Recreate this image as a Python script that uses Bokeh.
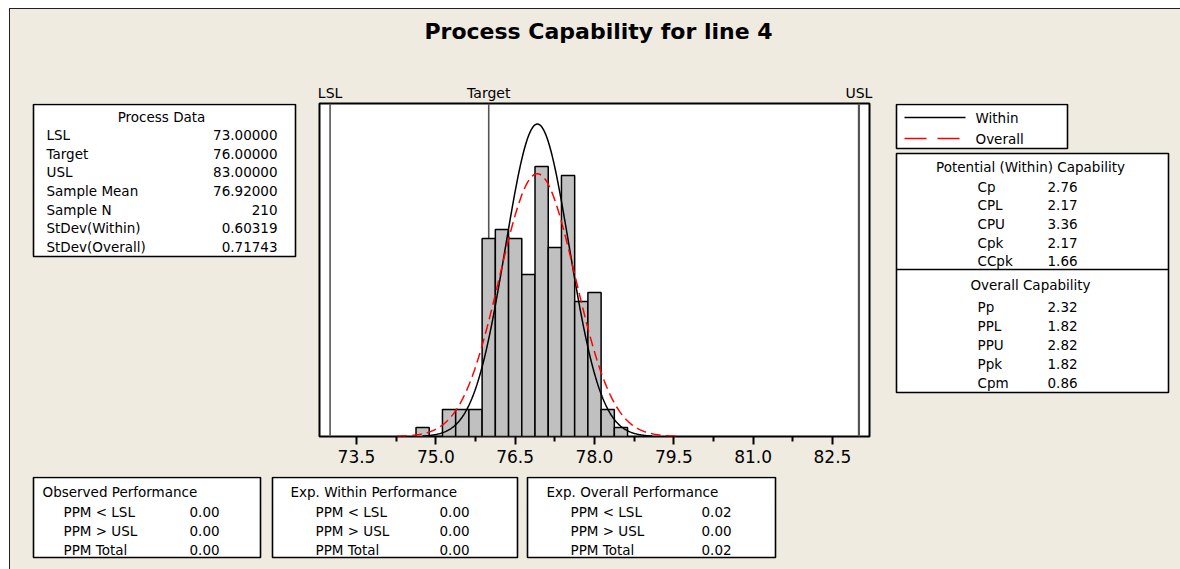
import numpy as np
from bokeh.plotting import figure
from bokeh.models import Range1d, LinearAxis, FixedTicker, Span, NumeralTickFormatter
from bokeh.layouts import column, row
from bokeh.embed import file_html
from bokeh.resources import INLINE
from bokeh.core.properties import value

# ---------------- data ----------------
title_text = "Process Capability for line 4"
lsl = 73
target = 76
usl = 83
sample_mean = 76.92
sample_n = 210
sd_within = 0.60319
sd_overall = 0.71743
bin_width = 0.25
bin_centers = [74.75, 75.0, 75.25, 75.5, 75.75, 76.0, 76.25, 76.5, 76.75,
               77.0, 77.25, 77.5, 77.75, 78.0, 78.25, 78.5]
bin_counts = [1, 0, 3, 3, 3, 22, 23, 22, 18, 30, 21, 29, 15, 16, 3, 1]
x_ticks = [73.5, 75.0, 76.5, 78.0, 79.5, 81.0, 82.5]
x_minor_ticks = [74.25, 75.75, 77.25, 78.75, 80.25, 81.75]
spec_labels = {lsl: "LSL", target: "Target", usl: "USL"}

pd_title = "Process Data"
pd_labels = ["LSL", "Target", "USL", "Sample Mean", "Sample N", "StDev(Within)", "StDev(Overall)"]
pd_values = ["73.00000", "76.00000", "83.00000", "76.92000", "210", "0.60319", "0.71743"]

legend_labels = ["Within", "Overall"]

pot_title = "Potential (Within) Capability"
pot_labels = ["Cp", "CPL", "CPU", "Cpk", "CCpk"]
pot_values = ["2.76", "2.17", "3.36", "2.17", "1.66"]
ovr_title = "Overall Capability"
ovr_labels = ["Pp", "PPL", "PPU", "Ppk", "Cpm"]
ovr_values = ["2.32", "1.82", "2.82", "1.82", "0.86"]

perf_titles = ["Observed Performance", "Exp. Within Performance", "Exp. Overall Performance"]
perf_labels = ["PPM < LSL", "PPM > USL", "PPM Total"]
perf_values = [["0.00", "0.00", "0.00"],
               ["0.00", "0.00", "0.00"],
               ["0.02", "0.00", "0.02"]]

# ---------------- style ----------------
CREAM = "#EFEBE0"
FONT = "DejaVu Sans"
FS = "13.5px"


def txt(f, xs, ys, texts, align="left", size=FS, style="normal"):
    f.text(x=xs, y=ys, text=texts, text_font=value(FONT), text_font_size=size,
           text_align=align, text_baseline="middle", text_color="black",
           text_font_style=style)


def panel(x0, x1, y0, y1, btop=0, bbot=0):
    f = figure(width=x1 - x0, height=(y1 - y0) + btop + bbot, x_range=Range1d(x0, x1),
               y_range=Range1d(y1, y0), output_backend="svg",
               toolbar_location=None, min_border=0,
               min_border_top=btop, min_border_bottom=bbot,
               x_axis_type=None, y_axis_type=None)
    f.grid.visible = False
    f.outline_line_color = None
    f.background_fill_color = CREAM
    f.border_fill_color = CREAM
    return f


def box(f, l, r, t, b):
    f.quad(left=l, right=r, top=t, bottom=b, fill_color="white",
           line_color="black", line_width=1.6)


# ---------------- title strip (page area starts at x=10, y=9) ----------------
top = panel(10, 1180, 9, 75)
txt(top, [598], [31], [title_text], align="center", size="22px", style="bold")

# ---------------- left: process data (frame aligned with histogram frame) ----------------
left = panel(10, 305, 103, 436, btop=28, bbot=40)
box(left, 33, 295, 104, 256)
txt(left, [161], [116], [pd_title], align="center")
pd_y = [134.3 + i * 18.7 for i in range(len(pd_labels))]
txt(left, [46] * len(pd_labels), pd_y, pd_labels)
txt(left, [277] * len(pd_values), pd_y, pd_values, align="right")

# ---------------- histogram ----------------
hist = figure(width=580, height=401, x_range=Range1d(72.8, 83.2), y_range=Range1d(0, 37.0),
              output_backend="svg", toolbar_location=None,
              min_border_left=14, min_border_right=16, min_border_top=28, min_border_bottom=40,
              y_axis_type=None)
hist.grid.visible = False
hist.background_fill_color = "white"
hist.border_fill_color = CREAM
hist.outline_line_color = "black"
hist.outline_line_width = 2

for loc, col, wd in [(lsl, "#555555", 1.6), (target, "#555555", 1.6), (usl, "#555555", 2.2)]:
    hist.add_layout(Span(location=loc, dimension="height", line_color=col,
                         line_width=wd, level="underlay"))

centers = np.array(bin_centers)
hist.quad(left=centers - bin_width / 2, right=centers + bin_width / 2,
          top=bin_counts, bottom=0, fill_color="#C0C0C0", line_color="black", line_width=1.5)

scale = sample_n * bin_width
xw = np.linspace(sample_mean - 3.6 * sd_within, sample_mean + 3.6 * sd_within, 300)
yw = scale * np.exp(-0.5 * ((xw - sample_mean) / sd_within) ** 2) / (sd_within * np.sqrt(2 * np.pi))
xo = np.linspace(sample_mean - 3.7 * sd_overall, sample_mean + 3.7 * sd_overall, 300)
yo = scale * np.exp(-0.5 * ((xo - sample_mean) / sd_overall) ** 2) / (sd_overall * np.sqrt(2 * np.pi))
hist.line(xw, yw, line_color="black", line_width=1.5)
hist.line(xo, yo, line_color="#FF0000", line_width=1.5, line_dash="10 5")

ax = hist.xaxis[0]
ax.ticker = FixedTicker(ticks=x_ticks, minor_ticks=x_minor_ticks)
ax.formatter = NumeralTickFormatter(format="0.0")
ax.axis_line_color = None
ax.major_tick_line_color = "black"
ax.major_tick_line_width = 2
ax.minor_tick_line_color = "black"
ax.minor_tick_line_width = 2
ax.major_tick_in = 0
ax.minor_tick_in = 0
ax.major_tick_out = 8
ax.minor_tick_out = 5
ax.major_label_standoff = 5
ax.major_label_text_font = FONT
ax.major_label_text_font_size = "17px"
ax.major_label_text_color = "black"

spec_axis = LinearAxis(ticker=FixedTicker(ticks=[lsl, target, usl]),
                       major_label_overrides=spec_labels)
spec_axis.axis_line_color = None
spec_axis.major_tick_line_color = None
spec_axis.minor_tick_line_color = None
spec_axis.major_tick_out = 0
spec_axis.major_tick_in = 0
spec_axis.major_label_standoff = 3
spec_axis.major_label_text_font = FONT
spec_axis.major_label_text_font_size = "14px"
spec_axis.major_label_text_color = "black"
hist.add_layout(spec_axis, "above")

# ---------------- right: legend + capability ----------------
right = panel(885, 1180, 103, 436, btop=28, bbot=40)
box(right, 896, 1067, 104, 148)
right.segment(x0=[904], y0=[117], x1=[965], y1=[117], line_color="black", line_width=1.5)
right.segment(x0=[904], y0=[138], x1=[965], y1=[138], line_color="#FF0000",
              line_width=1.5, line_dash="22 11")
txt(right, [975, 975], [117, 138], legend_labels)

box(right, 896, 1168, 153, 392)
right.segment(x0=[896], y0=[269], x1=[1168], y1=[269], line_color="black", line_width=1.6)
txt(right, [1030], [166], [pot_title], align="center")
pot_y = [186 + i * 18.7 for i in range(len(pot_labels))]
txt(right, [977] * len(pot_labels), pot_y, pot_labels)
txt(right, [1047] * len(pot_values), pot_y, pot_values)
txt(right, [1030], [284.5], [ovr_title], align="center")
ovr_y = [306 + i * 19 for i in range(len(ovr_labels))]
txt(right, [977] * len(ovr_labels), ovr_y, ovr_labels)
txt(right, [1047] * len(ovr_values), ovr_y, ovr_values)

# ---------------- bottom: performance ----------------
bottom = panel(10, 1180, 476, 569)
box_x = [(33, 260), (272, 517), (527, 775)]
head_x = [42, 290, 546]
lab_x = [63, 315, 570]
val_x = [189, 439, 701]
row_y = [511.7, 530.3, 549]
for i in range(3):
    l, r = box_x[i]
    box(bottom, l, r, 477, 557)
    txt(bottom, [head_x[i]], [491.7], [perf_titles[i]])
    txt(bottom, [lab_x[i]] * 3, row_y, perf_labels)
    txt(bottom, [val_x[i]] * 3, row_y, perf_values[i])

layout = column(top, row(left, hist, right), bottom,
                styles={"margin-left": "9px", "margin-top": "8px",
                        "border-left": "1px solid #222222",
                        "border-top": "1px solid #222222",
                        "background-color": CREAM})
open("out.html", "w").write(file_html(layout, INLINE))
